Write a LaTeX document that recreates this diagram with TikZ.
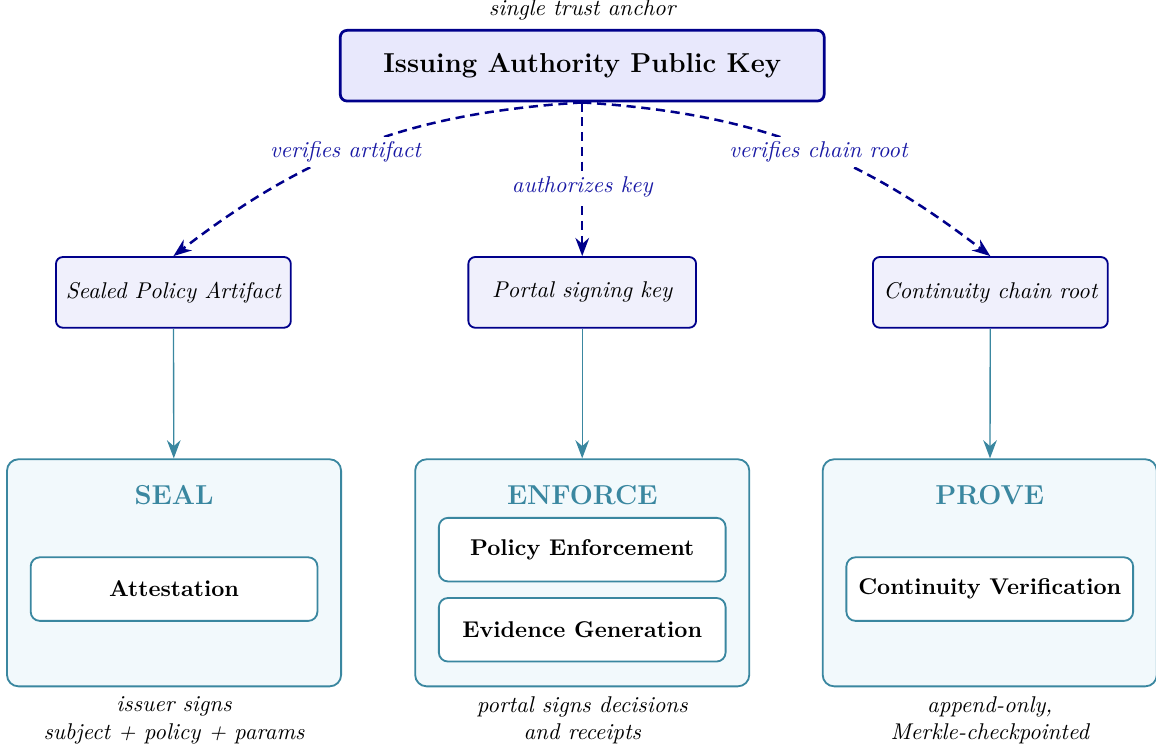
\documentclass[tikz,border=0pt]{standalone}
\usetikzlibrary{arrows.meta}

\definecolor{anchorblue}{RGB}{0,0,139}
\definecolor{anchorfill}{RGB}{232,232,252}
\definecolor{keyfill}{RGB}{240,240,252}
\definecolor{stageteal}{RGB}{58,135,160}
\definecolor{stagefill}{RGB}{242,249,252}
\definecolor{labelblue}{RGB}{25,25,165}

\tikzset{
  anchorbox/.style={draw=anchorblue, very thick, fill=anchorfill, rounded corners=3pt,
    minimum width=7.46cm, minimum height=1.09cm, font=\large\bfseries},
  keybox/.style={draw=anchorblue, thick, fill=keyfill, rounded corners=3pt,
    minimum height=1.09cm, font=\itshape},
  stagebox/.style={draw=stageteal, thick, fill=stagefill, rounded corners=5pt,
    minimum width=5.15cm, minimum height=3.50cm},
  stagetitle/.style={text=stageteal, font=\large\bfseries},
  stepbox/.style={draw=stageteal, thick, fill=white, rounded corners=4pt,
    minimum width=4.42cm, minimum height=0.98cm, font=\bfseries},
  note/.style={font=\itshape, align=center},
  trust/.style={-{Stealth[length=2.8mm]}, line width=1.1pt, dash pattern=on 4pt off 2.5pt, draw=anchorblue},
  feeds/.style={-{Stealth[length=2.8mm]}, semithick, draw=stageteal},
  edgelabel/.style={fill=white, text=labelblue, font=\itshape, inner sep=2pt}
}

\begin{document}
\begin{tikzpicture}
\useasboundingbox (0,0) rectangle (17.82,-11.53);

% trust anchor
\node[note] (anchornote) at (8.975,-0.154) {single trust anchor};
\node[anchorbox] (iak) at (8.975,-1.013) {Issuing Authority Public Key};

% keys derived from the anchor
\node[keybox, minimum width=3.62cm] (artifact) at (2.673,-4.507) {Sealed Policy Artifact};
\node[keybox, minimum width=3.51cm] (portalkey) at (8.975,-4.507) {Portal signing key};
\node[keybox, minimum width=3.62cm] (chainroot) at (15.266,-4.507) {Continuity chain root};

% stages
\node[stagebox] (seal) at (2.683,-8.83) {};
\node[stagebox] (enforce) at (8.975,-8.83) {};
\node[stagebox] (prove) at (15.257,-8.83) {};

\node[stagetitle] (sealtitle) at (2.683,-7.633) {SEAL};
\node[stagetitle] (enforcetitle) at (8.975,-7.633) {ENFORCE};
\node[stagetitle] (provetitle) at (15.257,-7.633) {PROVE};

\node[stepbox] (attest) at (2.683,-9.081) {Attestation};
\node[stepbox] (policy) at (8.975,-8.473) {Policy Enforcement};
\node[stepbox] (evidence) at (8.975,-9.708) {Evidence Generation};
\node[stepbox] (contver) at (15.257,-9.081) {Continuity Verification};

\node[note] (sealnote) at (2.683,-11.107) {issuer signs\\subject + policy + params};
\node[note] (enforcenote) at (8.975,-11.107) {portal signs decisions\\and receipts};
\node[note] (provenote) at (15.257,-11.107) {append-only,\\Merkle-checkpointed};

\draw[trust] (iak.south) to[bend right=17] node[edgelabel, pos=0.55] {verifies artifact} (artifact.north);
\draw[trust] (iak.south) -- node[edgelabel, pos=0.55] {authorizes key} (portalkey.north);
\draw[trust] (iak.south) to[bend left=17] node[edgelabel, pos=0.55] {verifies chain root} (chainroot.north);

\draw[feeds] (artifact) -- (seal);
\draw[feeds] (portalkey) -- (enforce);
\draw[feeds] (chainroot) -- (prove);
\end{tikzpicture}
\end{document}
